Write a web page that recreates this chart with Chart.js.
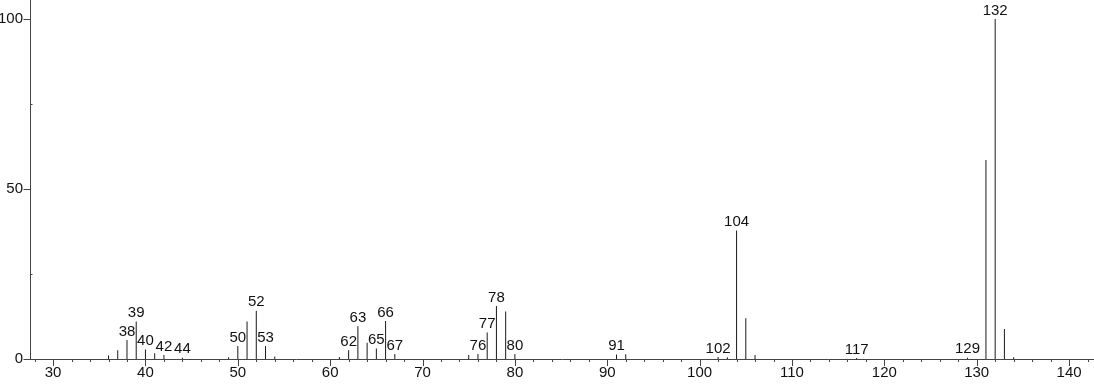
<!DOCTYPE html>
<html>
<head>
<meta charset="utf-8">
<script src="https://cdn.jsdelivr.net/npm/chart.js@4/dist/chart.umd.min.js"></script>
<style>
  html, body { margin: 0; padding: 0; background: #fff; }
  #wrap { width: 1094px; height: 384px; }
</style>
</head>
<body>
<div id="wrap"><canvas id="spec" width="1094" height="384"></canvas></div>
<script>
// m/z of each peak and its relative intensity (%)
const mz = [36, 37, 38, 39, 40, 41, 42, 44, 49, 50, 51, 52, 53, 54,
  61, 62, 63, 64, 65, 66, 67, 75, 76, 77, 78, 79, 80,
  91, 92, 102, 103, 104, 105, 106, 117, 129, 131, 132, 133, 134];
const intensity = [1.0, 2.6, 5.6, 11.0, 2.8, 1.7, 1.2, 0.4, 0.5, 3.8, 11.0, 14.2, 3.8, 0.7,
  0.6, 2.6, 9.6, 4.8, 3.1, 11.2, 1.5, 1.2, 1.5, 7.8, 15.6, 14.0, 1.5,
  1.3, 1.4, 0.6, 0.5, 37.8, 12.0, 1.2, 0.3, 0.4, 58.5, 100, 8.8, 0.5];
// peaks that carry an m/z label
const labeled = [38, 39, 40, 42, 44, 50, 52, 53, 62, 63, 65, 66, 67,
  76, 77, 78, 80, 91, 102, 104, 117, 129, 132];
const xTicks = [30, 40, 50, 60, 70, 80, 90, 100, 110, 120, 130, 140];
const yTicks = [0, 50, 100];

const axisColor = '#444';
const font = '"Liberation Sans", Arial, sans-serif';

// minor/major tick marks + peak labels
const decor = {
  id: 'decor',
  afterDraw(chart) {
    const ctx = chart.ctx;
    const xs = chart.scales.x, ys = chart.scales.y;
    const y0 = ys.getPixelForValue(0);
    ctx.save();
    ctx.strokeStyle = axisColor;
    ctx.lineWidth = 1;
    ctx.beginPath();
    for (let v = 28; v <= 142; v += 2) {
      const px = Math.round(xs.getPixelForValue(v)) + 0.5;
      const len = v % 10 === 0 ? 7 : 3;
      ctx.moveTo(px, y0);
      ctx.lineTo(px, y0 + len);
    }
    const yl = Math.round(xs.left) + 0.5;
    yTicks.forEach(v => {
      const py = Math.round(ys.getPixelForValue(v)) + 0.5;
      ctx.moveTo(yl - 7, py);
      ctx.lineTo(yl, py);
    });
    [25, 75].forEach(v => {
      const py = Math.round(ys.getPixelForValue(v)) + 0.5;
      ctx.moveTo(yl, py);
      ctx.lineTo(yl + 2, py);
    });
    ctx.stroke();

    ctx.fillStyle = '#111';
    ctx.font = '15px ' + font;
    ctx.textAlign = 'center';
    ctx.textBaseline = 'bottom';
    labeled.forEach(m => {
      const i = mz.indexOf(m);
      const px = xs.getPixelForValue(m);
      const py = ys.getPixelForValue(intensity[i]);
      ctx.fillText(String(m), px, py - 1);
    });
    ctx.restore();
  }
};

new Chart(document.getElementById('spec'), {
  type: 'bar',
  data: {
    datasets: [{
      data: mz.map((m, i) => ({ x: m, y: intensity[i] })),
      backgroundColor: '#1a1a1a',
      borderWidth: 0,
      barThickness: 1,
      inflateAmount: 0,
      grouped: false
    }]
  },
  options: {
    responsive: false,
    animation: false,
    devicePixelRatio: 1,
    layout: { padding: 0 },
    plugins: { legend: { display: false }, tooltip: { enabled: false } },
    scales: {
      x: {
        type: 'linear',
        min: 27.5,
        max: 142.7,
        offset: false,
        grid: { display: false, drawTicks: false },
        border: { display: true, color: axisColor, width: 1 },
        afterBuildTicks: s => { s.ticks = xTicks.map(v => ({ value: v })); },
        ticks: {
          autoSkip: false,
          maxRotation: 0,
          padding: 5,
          color: '#111',
          font: { family: font, size: 15 }
        },
        afterFit: s => { s.height = 25; s.paddingLeft = 0; s.paddingRight = 0; }
      },
      y: {
        min: 0,
        max: 105.6,
        grid: { display: false, drawTicks: false },
        border: { display: true, color: axisColor, width: 1 },
        afterBuildTicks: s => { s.ticks = yTicks.map(v => ({ value: v })); },
        ticks: {
          padding: 7,
          color: '#111',
          font: { family: font, size: 15 }
        },
        afterFit: s => { s.width = 30; s.paddingTop = 0; s.paddingBottom = 0; }
      }
    }
  },
  plugins: [decor]
});
</script>
</body>
</html>
